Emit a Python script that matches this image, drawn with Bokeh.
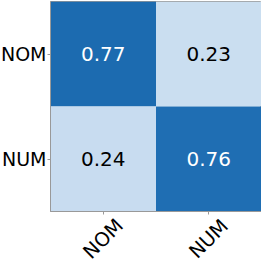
import math
from bokeh.plotting import figure
from bokeh.models import ColumnDataSource, LinearColorMapper
from bokeh.palettes import Blues256
from bokeh.transform import transform
from bokeh.core.properties import value
from bokeh.embed import file_html
from bokeh.resources import INLINE

labels = ["NOM", "NUM"]
true_labels = ["NOM", "NOM", "NUM", "NUM"]
pred_labels = ["NOM", "NUM", "NOM", "NUM"]
scores = [0.77, 0.23, 0.24, 0.76]

text_colors = ["white" if s > 0.5 else "black" for s in scores]
score_text = ["%.2f" % s for s in scores]

source = ColumnDataSource(dict(x=pred_labels, y=true_labels, v=scores,
                               t=score_text, tc=text_colors))

mapper = LinearColorMapper(palette=list(Blues256[::-1]), low=0.0, high=1.0)

p = figure(frame_width=211, frame_height=210,
           x_range=labels, y_range=labels[::-1],
           output_backend="svg", toolbar_location=None,
           min_border_left=50, min_border_right=0, min_border_top=0,
           min_border_bottom=50)
p.styles = {"margin-top": "1px", "margin-left": "-3px"}

p.rect(x="x", y="y", width=1, height=1, source=source,
       fill_color=transform("v", mapper), line_color=None)
p.text(x="x", y="y", text="t", source=source, text_color="tc",
       text_align="center", text_baseline="middle",
       text_font=value("DejaVu Sans"), text_font_size="20px")

p.grid.visible = False
p.outline_line_color = "#999999"
p.outline_line_width = 1
for ax in (p.xaxis[0], p.yaxis[0]):
    ax.axis_line_color = "#999999"
    ax.major_tick_line_color = "#999999"
    ax.major_tick_out = 3
    ax.major_tick_in = 0
    ax.minor_tick_line_color = None
    ax.major_label_text_font = "DejaVu Sans"
    ax.major_label_text_font_size = "19px"
    ax.major_label_text_color = "black"
    ax.major_label_standoff = 1

# x tick labels drawn as rotated, centred texts below each tick
p.xaxis.major_label_text_color = None
xlab = ColumnDataSource(dict(x=labels, t=labels))
p.text(x="x", y=-0.26, text="t", source=xlab, angle=math.pi / 4,
       text_align="center", text_baseline="middle",
       text_font=value("DejaVu Sans"), text_font_size="19.5px",
       text_color="black", level="overlay")

open("out.html", "w").write(file_html(p, INLINE))
